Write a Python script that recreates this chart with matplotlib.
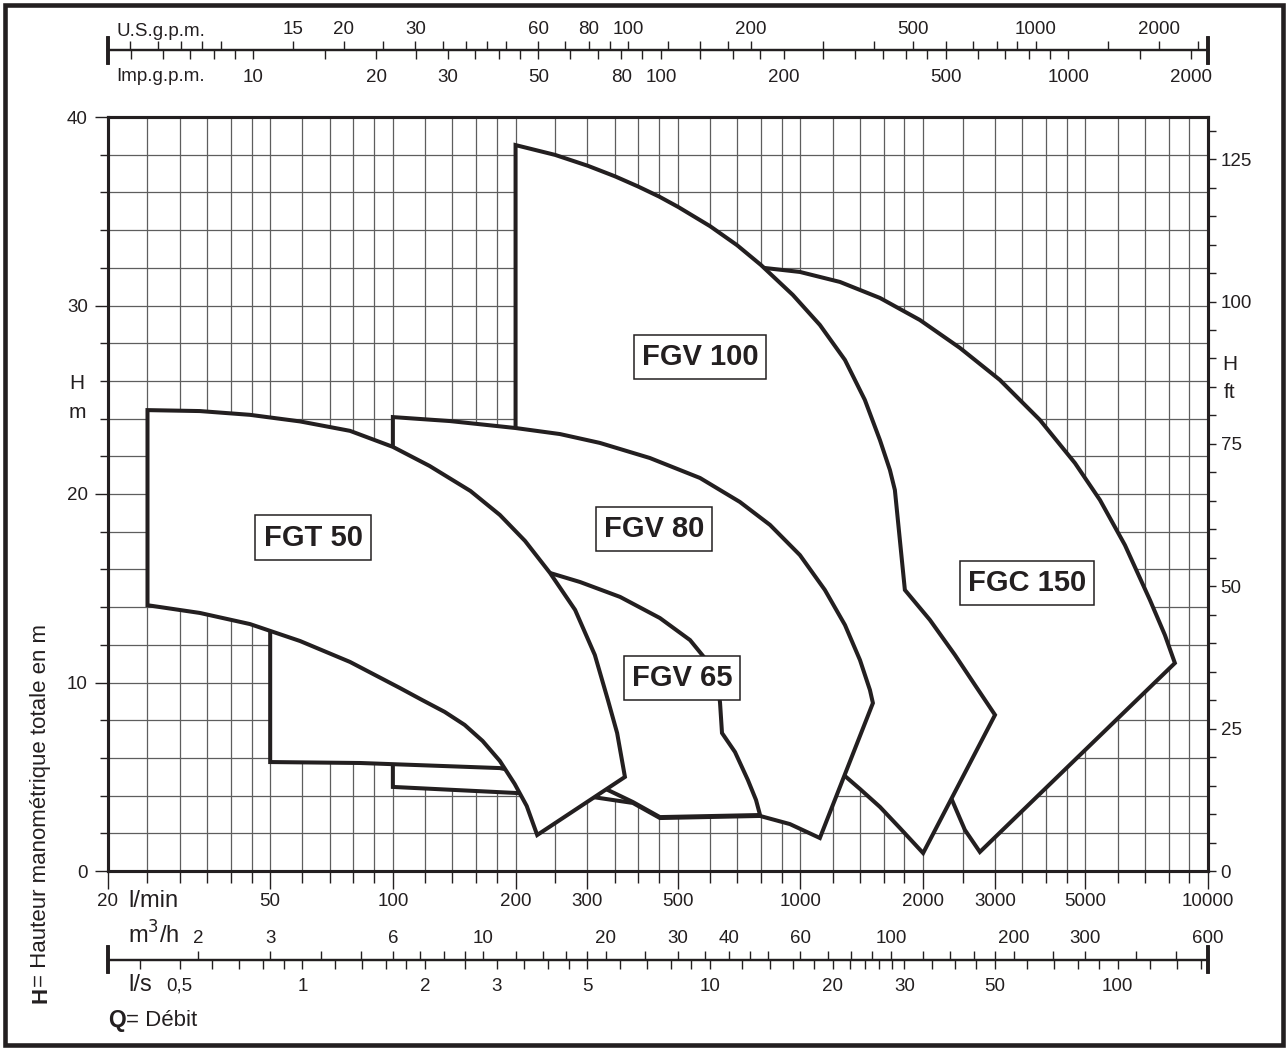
import matplotlib
matplotlib.use("Agg")
import matplotlib.pyplot as plt
from matplotlib import font_manager
from matplotlib.patches import Rectangle
from matplotlib.ticker import NullFormatter

FIG_W, FIG_H = 1287, 1049
INK = "#231f20"
GRID = "#5e5e5e"

# unit conversions used by the auxiliary scales
L_PER_US_GAL = 3.785
L_PER_IMP_GAL = 4.546
FT_PER_M = 3.31  # as printed on the chart's right-hand scale

# main flow axis, l/min
FLOW_LABELLED = [20, 50, 100, 200, 300, 500, 1000, 2000, 3000, 5000, 10000]
FLOW_GRID = [25, 30, 35, 40, 45, 60, 70, 80, 90, 120, 140, 160, 180, 250, 350, 400, 450,
             600, 700, 800, 900, 1200, 1400, 1600, 1800, 2500, 3500, 4000, 4500,
             6000, 7000, 8000, 9000]
HEAD_LABELLED = [0, 10, 20, 30, 40]
HEAD_MINOR = [2, 4, 6, 8, 12, 14, 16, 18, 22, 24, 26, 28, 32, 34, 36, 38]
FT_LABELLED = [0, 25, 50, 75, 100, 125]
FT_MINOR = [5, 10, 15, 20, 30, 35, 40, 45, 55, 60, 65, 70, 80, 85, 90, 95, 105, 110, 115, 120, 130]

US_GPM_LABELLED = [15, 20, 30, 60, 80, 100, 200, 500, 1000, 2000]
US_GPM_MINOR = [6, 7, 8, 9, 10, 25, 35, 40, 45, 50, 70, 90, 125, 150, 175, 300, 400,
                600, 700, 800, 900, 1500, 2500]
IMP_GPM_LABELLED = [10, 20, 30, 50, 80, 100, 200, 500, 1000, 2000]
IMP_GPM_MINOR = [5, 6, 7, 8, 9, 15, 25, 35, 40, 45, 60, 70, 90, 125, 150, 175, 250, 300,
                 350, 400, 450, 600, 700, 800, 900, 1500]
M3H_LABELLED = [2, 3, 6, 10, 20, 30, 40, 60, 100, 200, 300, 600]
M3H_MINOR = [4, 5, 7, 8, 9, 12, 14, 16, 18, 25, 35, 45, 50, 70, 80, 90, 120, 140, 160, 180,
             250, 400, 500]
LS_LABELLED = [0.5, 1, 2, 3, 5, 10, 20, 30, 50, 100]
LS_LABEL_TEXT = ["0,5", "1", "2", "3", "5", "10", "20", "30", "50", "100"]
LS_MINOR = [0.4, 0.6, 0.7, 0.8, 0.9, 1.2, 1.4, 1.6, 1.8, 2.5, 3.5, 4, 4.5, 6, 7, 8, 9,
            12, 14, 16, 18, 22, 24, 26, 28, 35, 40, 45, 60, 70, 80, 90, 120, 140, 160]

# pump range envelopes (Q in l/min, H in m)
FGT50_Q = [25, 25, 33.6, 44.6, 59.2, 78.5, 100, 123, 155, 183, 211, 243, 280, 313, 337, 355, 371,
           226, 213, 199, 183, 166, 150, 134, 118, 104, 78.5, 59.2, 44.6, 33.6]
FGT50_H = [14.1, 24.45, 24.4, 24.2, 23.85, 23.35, 22.5, 21.49, 20.16, 18.89, 17.51, 15.81, 13.85,
           11.46, 9.07, 7.32, 4.99, 1.91, 3.45, 4.62, 5.84, 6.9, 7.75, 8.44, 9.07, 9.71, 11.09,
           12.2, 13.1, 13.69]
FGV65_Q = [50, 50, 104, 183, 243, 288, 361, 452, 536, 593, 628, 635, 642, 691, 743, 778, 796,
           452, 388, 333, 183, 83.1]
FGV65_H = [5.78, 16.5, 16.34, 16.07, 15.81, 15.33, 14.54, 13.42, 12.25, 11.09, 9.87, 8.91, 7.32,
           6.31, 4.83, 3.77, 2.97, 2.86, 3.66, 4.35, 5.46, 5.73]
FGV80_Q = [100, 100, 138, 200, 257, 322, 427, 567, 710, 842, 997, 1148, 1286, 1400, 1481, 1506,
           1116, 942, 796, 452, 388, 308, 200]
FGV80_H = [4.46, 24.08, 23.87, 23.5, 23.18, 22.71, 21.91, 20.85, 19.58, 18.36, 16.76, 14.91,
           13.05, 11.19, 9.6, 8.91, 1.75, 2.49, 2.92, 2.81, 3.61, 3.93, 4.14]
FGV100_Q = [200, 200, 250, 301, 351, 399, 450, 501, 600, 699, 800, 958, 1116, 1286, 1439, 1567,
            1658, 1705, 1804, 2078, 2394, 2680, 3002, 2000, 1754, 1567, 1400, 1286, 997, 567, 322]
FGV100_H = [14.38, 38.51, 37.99, 37.41, 36.85, 36.32, 35.78, 35.23, 34.21, 33.2, 32.15, 30.56,
            28.97, 27.11, 24.99, 22.86, 21.27, 20.21, 14.91, 13.32, 11.46, 9.87, 8.28, 0.95,
            2.28, 3.40, 4.35, 5.04, 6.95, 9.07, 11.72]
FGC150_Q = [567, 567, 710, 818, 997, 1250, 1567, 1964, 2462, 3086, 3868, 4716, 5432, 6254, 7202,
            7838, 8294, 2756, 2532, 2354, 1754, 997]
FGC150_H = [10.13, 32.31, 32.15, 31.99, 31.78, 31.25, 30.40, 29.23, 27.75, 26.05, 23.93, 21.64,
            19.68, 17.29, 14.38, 12.52, 11.03, 1.01, 2.18, 3.77, 6.42, 9.07]

# drawn back to front
MODEL_NAMES = ["FGC 150", "FGV 100", "FGV 80", "FGV 65", "FGT 50"]
MODEL_Q = [FGC150_Q, FGV100_Q, FGV80_Q, FGV65_Q, FGT50_Q]
MODEL_H = [FGC150_H, FGV100_H, FGV80_H, FGV65_H, FGT50_H]
LABEL_Q = [3596, 567, 437, 512, 63.7]
LABEL_H = [15.28, 27.27, 18.14, 10.24, 17.69]


def pick_family(preferred, fallback):
    names = {f.name for f in font_manager.fontManager.ttflist}
    return preferred if preferred in names else fallback


def px_axes(fig, x0, y0, x1, y1):
    """Axes from a pixel box measured from the top-left corner."""
    return fig.add_axes([x0 / FIG_W, 1 - y1 / FIG_H, (x1 - x0) / FIG_W, (y1 - y0) / FIG_H])


def fig_text(fig, x, y, s, **kw):
    kw.setdefault("color", INK)
    kw.setdefault("fontsize", 13.5)
    return fig.text(x / FIG_W, 1 - y / FIG_H, s, **kw)


def scale_axes(fig, y0, y1, lo, hi, major, labels, minor, upper):
    """A bare log scale drawn as a single line with end caps."""
    ax = px_axes(fig, 108, y0, 1208, y1)
    ax.set_xscale("log")
    ax.set_xlim(lo, hi)
    ax.set_ylim(0, 1)
    ax.set_yticks([])
    ax.patch.set_visible(False)
    keep = "top" if upper else "bottom"
    for name, sp in ax.spines.items():
        sp.set_color(INK)
        if name in ("left", "right"):
            sp.set_linewidth(2.6)
        elif name == keep:
            sp.set_position(("axes", 0.5))
            sp.set_linewidth(1.6)
        else:
            sp.set_visible(False)
    if upper:
        ax.xaxis.tick_top()
    else:
        ax.xaxis.tick_bottom()
    ax.set_xticks(major, labels=labels)
    ax.set_xticks(minor, minor=True)
    ax.xaxis.set_minor_formatter(NullFormatter())
    ax.tick_params(axis="x", which="both", direction="out", length=6.5, width=1.0,
                   pad=2.5 if upper else 6.5, labelsize=13.5, colors=INK)
    return ax


def main():
    plt.rcParams["font.family"] = "Liberation Sans"
    box_family = pick_family("Liberation Sans Narrow", "Liberation Sans")

    fig = plt.figure(figsize=(FIG_W / 100, FIG_H / 100), dpi=100)

    ax = px_axes(fig, 108, 117, 1208, 871)
    ax.set_xscale("log")
    ax.set_xlim(20, 10000)
    ax.set_ylim(0, 40)
    ax.set_axisbelow(True)
    ax.set_xticks(FLOW_LABELLED, labels=[str(v) for v in FLOW_LABELLED])
    ax.set_xticks(FLOW_GRID, minor=True)
    ax.xaxis.set_minor_formatter(NullFormatter())
    ax.set_yticks(HEAD_LABELLED)
    ax.set_yticks(HEAD_MINOR, minor=True)
    ax.grid(True, which="both", color=GRID, linewidth=0.9)
    ax.tick_params(axis="x", which="major", direction="out", length=13, width=1.0, pad=3,
                   labelsize=13.5, colors=INK)
    ax.tick_params(axis="x", which="minor", direction="out", length=8.5, width=1.0, colors=INK)
    ax.tick_params(axis="y", which="major", direction="out", length=9.5, width=1.0, pad=5,
                   labelsize=13.5, colors=INK)
    ax.tick_params(axis="y", which="minor", direction="out", length=6, width=1.0, colors=INK)
    for sp in ax.spines.values():
        sp.set_linewidth(2.2)
        sp.set_color(INK)

    for z, (q, h) in enumerate(zip(MODEL_Q, MODEL_H)):
        ax.fill(q, h, facecolor="white", edgecolor=INK, linewidth=2.9, zorder=3 + z)
    for name, q, h in zip(MODEL_NAMES, LABEL_Q, LABEL_H):
        ax.text(q, h, name, ha="center", va="center", fontsize=21, fontweight="bold",
                family=box_family, color=INK, zorder=10,
                bbox=dict(boxstyle="square,pad=0.28", facecolor="white", edgecolor=INK,
                          linewidth=1.1))

    ax_ft = ax.twinx()
    ax_ft.set_ylim(0, 40 * FT_PER_M)
    ax_ft.set_yticks(FT_LABELLED)
    ax_ft.set_yticks(FT_MINOR, minor=True)
    ax_ft.tick_params(axis="y", which="both", direction="out", length=6, width=1.0, pad=3,
                      labelsize=13.5, colors=INK)
    for sp in ax_ft.spines.values():
        sp.set_linewidth(2.2)
        sp.set_color(INK)

    # gallon scales on top, m3/h and l/s underneath
    scale_axes(fig, 38, 63, 20 / L_PER_US_GAL, 10000 / L_PER_US_GAL, US_GPM_LABELLED,
               [str(v) for v in US_GPM_LABELLED], US_GPM_MINOR, upper=True)
    scale_axes(fig, 38, 63, 20 / L_PER_IMP_GAL, 10000 / L_PER_IMP_GAL, IMP_GPM_LABELLED,
               [str(v) for v in IMP_GPM_LABELLED], IMP_GPM_MINOR, upper=False)
    scale_axes(fig, 947, 972, 20 * 0.06, 10000 * 0.06, M3H_LABELLED,
               [str(v) for v in M3H_LABELLED], M3H_MINOR, upper=True)
    scale_axes(fig, 947, 972, 20 / 60, 10000 / 60, LS_LABELLED, LS_LABEL_TEXT, LS_MINOR,
               upper=False)

    fig_text(fig, 116, 31, "U.S.g.p.m.", va="center")
    fig_text(fig, 116, 76, "Imp.g.p.m.", va="center")
    fig_text(fig, 128, 901, "l/min", va="center", fontsize=17)
    fig_text(fig, 128, 935, "m$^3$/h", va="center", fontsize=17)
    fig_text(fig, 128, 985, "l/s", va="center", fontsize=17)
    fig_text(fig, 108, 1021, "Q", va="center", fontsize=16.5, fontweight="bold")
    fig_text(fig, 126, 1021, "= Débit", va="center", fontsize=16)

    fig_text(fig, 77, 384, "H", ha="center", va="center", fontsize=15)
    fig_text(fig, 77, 412, "m", ha="center", va="center", fontsize=15)
    fig_text(fig, 1230, 365, "H", ha="center", va="center", fontsize=15)
    fig_text(fig, 1230, 392, "ft", ha="center", va="center", fontsize=15)

    fig_text(fig, 41, 1003, "H", rotation=90, ha="center", va="bottom", fontsize=16,
             fontweight="bold")
    fig_text(fig, 41, 987, "= Hauteur manométrique totale en m", rotation=90, ha="center",
             va="bottom", fontsize=16)

    fig.add_artist(Rectangle((4.5 / FIG_W, 4.5 / FIG_H), (FIG_W - 9) / FIG_W,
                             (FIG_H - 9) / FIG_H, transform=fig.transFigure, fill=False,
                             edgecolor=INK, linewidth=3.3))

    fig.savefig("out.png", dpi=100)


if __name__ == "__main__":
    main()
